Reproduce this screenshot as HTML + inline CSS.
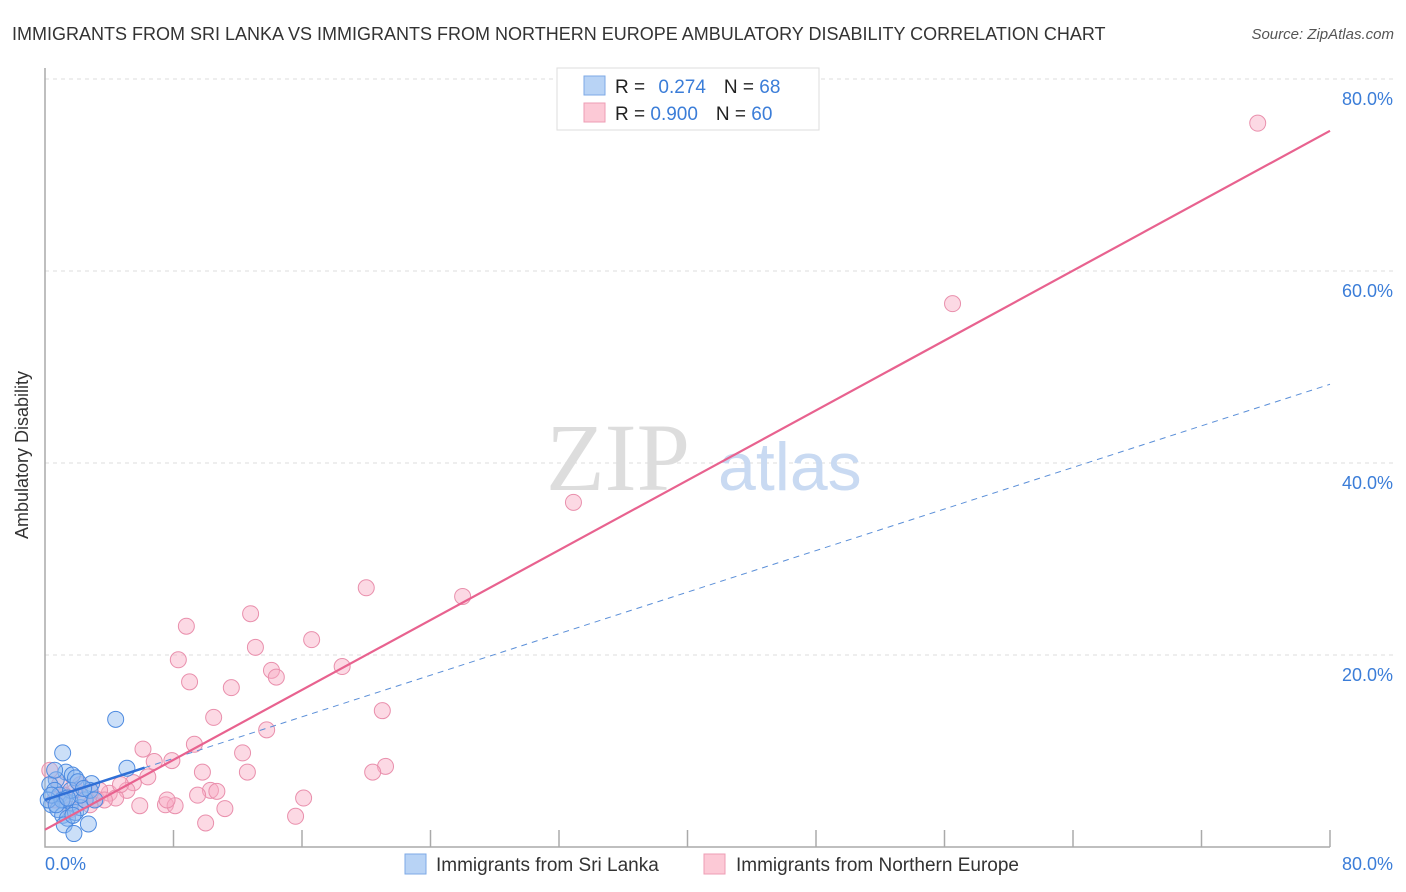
<!DOCTYPE html>
<html><head><meta charset="utf-8"><style>
body{margin:0;background:#fff;font-family:"Liberation Sans",sans-serif;}
svg{display:block}
</style></head><body>
<svg id="chart" width="1406" height="892">
<text x="12" y="40" font-size="18" fill="#333">IMMIGRANTS FROM SRI LANKA VS IMMIGRANTS FROM NORTHERN EUROPE AMBULATORY DISABILITY CORRELATION CHART</text>
<text x="1394" y="39" font-size="15" fill="#555" font-style="italic" text-anchor="end">Source: ZipAtlas.com</text>
<g id="grid"></g>
<text x="690" y="490" font-size="96" fill="#ddd" font-family="Liberation Serif" text-anchor="end">ZIP</text>
<text x="718" y="490" font-size="68" fill="#c9daf2">atlas</text>
<g id="axes"></g>
<g id="pts"></g>
<g id="lines"></g>
<text x="28" y="455" font-size="18" fill="#333" transform="rotate(-90 28 455)" text-anchor="middle">Ambulatory Disability</text>
<text x="45" y="870" font-size="18" fill="#3b7dd8">0.0%</text>
<text x="1393" y="870" font-size="18" fill="#3b7dd8" text-anchor="end">80.0%</text>
<g>
<rect x="557" y="68" width="262" height="62" fill="#fff" stroke="#ddd"/>
<rect x="584" y="76" width="21" height="19" fill="#b8d3f5" stroke="#7eaae6"/>
<rect x="584" y="103" width="21" height="19" fill="#fcc9d6" stroke="#ee9db4"/>
<text x="615" y="93" font-size="19" fill="#222">R = <tspan fill="#3b7dd8" dx="8">0.274</tspan><tspan dx="18" fill="#222">N = </tspan><tspan fill="#3b7dd8">68</tspan></text>
<text x="615" y="120" font-size="19" fill="#222">R = <tspan fill="#3b7dd8">0.900</tspan><tspan dx="18" fill="#222">N = </tspan><tspan fill="#3b7dd8">60</tspan></text>
</g>
<g>
<rect x="405" y="854" width="21" height="20" fill="#b8d3f5" stroke="#7eaae6"/>
<text x="436" y="871" font-size="19" fill="#333">Immigrants from Sri Lanka</text>
<rect x="704" y="854" width="21" height="20" fill="#fcc9d6" stroke="#ee9db4"/>
<text x="736" y="871" font-size="19" fill="#333">Immigrants from Northern Europe</text>
</g>
</svg>
<script>
const yTicks=[20,40,60,80];
const xTicksCount=10;
const pinkX=[75.5,56.5,32.9,26.0,20.0,12.8,8.8,16.6,13.1,8.3,18.5,14.1,14.4,9.0,11.6,21.0,10.5,13.8,9.3,12.3,6.1,7.9,6.8,6.4,9.8,12.6,21.2,20.4,10.3,10.7,9.5,5.5,5.1,4.0,4.4,3.2,16.1,5.9,7.5,8.1,7.6,11.2,10.0,15.6,0.3,0.9,1.9,2.5,2.8,0.6,1.2,1.6,4.7,3.4,2.2,3.7];
const pinkY=[75.4,56.6,35.9,26.1,27.0,24.3,23.0,21.6,20.8,19.5,18.8,18.4,17.7,17.2,16.6,14.2,13.5,12.2,10.7,9.8,10.2,9.0,8.9,7.3,7.8,7.8,8.4,7.8,5.9,5.8,5.4,6.7,5.9,5.6,5.1,5.0,5.1,4.3,4.4,4.3,4.9,4.0,2.5,3.2,8.0,6.5,5.9,4.9,4.4,4.9,5.4,3.9,6.5,5.9,6.5,4.9];
const blueX=[4.4,1.1,5.1,1.3,1.7,1.9,2.9,0.7,0.3,0.6,0.9,1.2,1.6,0.4,0.8,1.1,1.4,1.9,2.2,2.5,1.2,1.8,2.7,2.2,0.6,0.2,1.6,2.8,1.06,2.05,2.4,0.4,0.7,1.4,3.1,1.74];
const blueY=[13.3,9.8,8.2,7.8,7.5,7.2,6.6,7.0,6.5,5.9,5.4,4.9,4.6,4.4,3.9,3.3,3.0,3.6,4.1,4.9,2.3,1.4,2.4,5.4,8.0,4.9,5.9,5.9,4.9,6.8,6.1,5.4,4.4,5.1,4.9,3.3];
const pinkLine=[0,1.8,80,74.6];
const blueLine=[0,4.9,80,48.2];
const blueSolidEnd=6.2;
const sx=v=>45+v*(1285/80);
const sy=v=>847-v*(768/80);
const NS='http://www.w3.org/2000/svg';
function mk(p,tag,a){const e=document.createElementNS(NS,tag);for(const k in a)e.setAttribute(k,a[k]);p.appendChild(e);return e;}
const grid=document.getElementById('grid'),axes=document.getElementById('axes'),pts=document.getElementById('pts'),lines=document.getElementById('lines'),svg=document.getElementById('chart');
yTicks.forEach(t=>{
 const l=mk(grid,'line',{x1:45,x2:1393,y1:sy(t),y2:sy(t),stroke:'#ddd','stroke-dasharray':'4,4'});
 
 
 const tx=mk(svg,'text',{x:1393,y:sy(t)+26,'font-size':18,fill:'#3b7dd8','text-anchor':'end'});
 tx.textContent=t.toFixed(1)+'%';
 
 
});
const ax=mk(axes,'path',{d:`M45 68 V847 H1330`,fill:'none',stroke:'#aaa','stroke-width':1.5});


for(let i=1;i<=xTicksCount;i++){
 const t=mk(axes,'line',{x1:sx(i*8),x2:sx(i*8),y1:830,y2:847,stroke:'#aaa','stroke-width':1.5});
 
 
}
pinkX.forEach((x,i)=>{
 const c=mk(pts,'circle',{cx:sx(x),cy:sy(pinkY[i]),r:8,fill:'rgba(248,170,195,0.45)',stroke:'#e98fac','stroke-width':1});
 
 
});
blueX.forEach((x,i)=>{
 const c=mk(pts,'circle',{cx:sx(x),cy:sy(blueY[i]),r:8,fill:'rgba(140,185,240,0.45)',stroke:'#4d8ae0','stroke-width':1});
 
 
});
const bl=v=>blueLine[1]+(blueLine[3]-blueLine[1])*(v-blueLine[0])/(blueLine[2]-blueLine[0]);
const bd=mk(lines,'line',{x1:sx(blueSolidEnd),y1:sy(bl(blueSolidEnd)),x2:sx(blueLine[2]),y2:sy(blueLine[3]),stroke:'#5b8fd8','stroke-width':1,'stroke-dasharray':'6,5'});


const bs=mk(lines,'line',{x1:sx(blueLine[0]),y1:sy(blueLine[1]),x2:sx(blueSolidEnd),y2:sy(bl(blueSolidEnd)),stroke:'#2f6fd6','stroke-width':2.5});


const pl=mk(lines,'line',{x1:sx(pinkLine[0]),y1:sy(pinkLine[1]),x2:sx(pinkLine[2]),y2:sy(pinkLine[3]),stroke:'#e8628f','stroke-width':2.2});


</script>
</body></html>
